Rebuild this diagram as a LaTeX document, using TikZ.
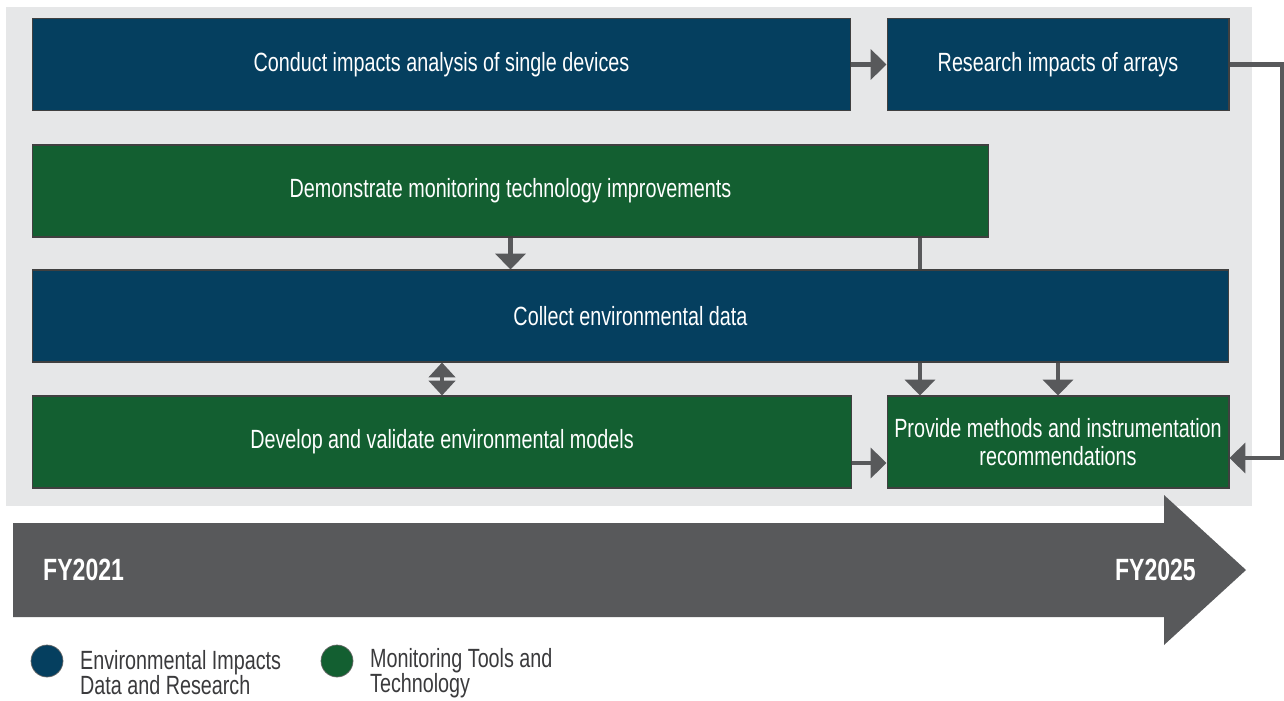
\documentclass[tikz,border=0pt]{standalone}
\usepackage{fontspec}
\setmainfont{Liberation Sans}[FakeStretch=0.75]
\usetikzlibrary{arrows.meta}

\definecolor{doeblue}{HTML}{053F5F}
\definecolor{doegreen}{HTML}{135F31}
\definecolor{panelgray}{HTML}{E6E7E8}
\definecolor{arrowgray}{HTML}{58595B}
\definecolor{keytext}{HTML}{3A3A3C}

\tikzset{
  task/.style={draw=black!75, line width=0.6pt, text=white, align=center, inner sep=2pt,
    minimum height=1.84cm, font=\fontsize{15}{16}\selectfont},
  bluetask/.style={task, fill=doeblue},
  greentask/.style={task, fill=doegreen},
  link/.style={draw=arrowgray, line width=2.3pt, -{Triangle[width=17pt,length=9pt]}},
  keydot/.style={circle, draw=black!60, inner sep=0pt, minimum size=0.64cm},
  keylabel/.style={anchor=west, align=left, text=keytext, inner sep=1pt, font=\fontsize{15}{14.2}\selectfont},
  year/.style={text=white, font=\bfseries\fontsize{17.5}{18}\selectfont},
}

\begin{document}
\begin{tikzpicture}[x=0.02cm, y=-0.02cm]
  \useasboundingbox (0,0) rectangle (1284,700);

  % Background panel and timeline
  \fill[panelgray] (6,7) rectangle (1252,506);
  \fill[arrowgray] (13,523) -- (1164,523) -- (1164,495) -- (1246,570)
    -- (1164,645) -- (1164,617) -- (13,617) -- cycle;

  % Define the positions of the nodes
  \node[bluetask, minimum width=16.38cm] (conduct) at (441.5,64.5) {Conduct impacts analysis of single devices};
  \node[bluetask, minimum width=6.84cm] (research) at (1058,64.5) {Research impacts of arrays};

  \node[greentask, minimum width=19.14cm] (demo) at (510.5,191) {Demonstrate monitoring technology improvements};

  \node[bluetask, minimum width=23.94cm] (collect) at (630.5,316) {Collect environmental data};

  \node[greentask, minimum width=16.4cm] (develop) at (442,442) {Develop and validate environmental models};
  \node[greentask, minimum width=6.84cm] (provide) at (1058,442) {Provide methods and instrumentation\\recommendations};

  \node[year, anchor=west] (fystart) at (37,570) {FY2021};
  \node[year, anchor=east] (fyend) at (1202,570) {FY2025};

  \node[keydot, fill=doeblue] (keyblue) at (47,661) {};
  \node[keylabel] (keybluetext) at (78,673) {Environmental Impacts\\Data and Research};
  \node[keydot, fill=doegreen] (keygreen) at (337,661) {};
  \node[keylabel] (keygreentext) at (368,673) {Monitoring Tools and\\Technology};

  % Helper columns and rows
  \coordinate (colA) at (920,0);
  \coordinate (colC) at (442,0);
  \coordinate (rowA) at (0,463);
  \coordinate (loopin) at ([yshift=-0.32cm]provide.east);

  % Draw the edges
  \draw[link] (conduct) -- (research);
  \draw[link] (demo.south) -- (demo.south |- collect.north);
  \draw[draw=arrowgray, line width=2.3pt] (demo.south -| colA) -- (collect.north -| colA);
  \draw[link, {Triangle[width=15pt,length=8.5pt]}-{Triangle[width=15pt,length=8.5pt]}] (collect.south -| colC) -- (develop.north -| colC);
  \draw[link] (collect.south -| colA) -- (provide.north -| colA);
  \draw[link] (collect.south -| provide) -- (provide.north);
  \draw[link] (develop.east |- rowA) -- (provide.west |- rowA);
  \draw[link] (research.east) -- ++(53,0) |- (loopin);
\end{tikzpicture}
\end{document}
